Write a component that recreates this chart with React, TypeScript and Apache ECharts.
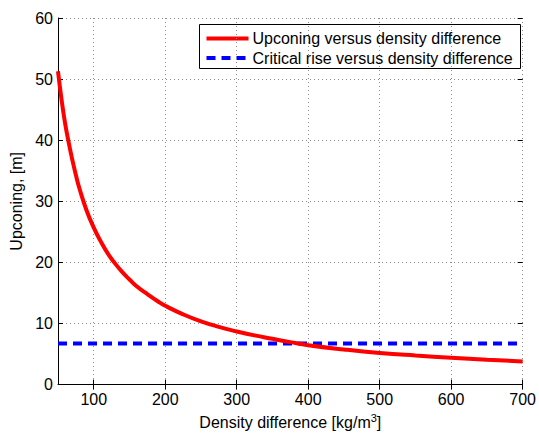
import React, { useEffect, useRef } from "react";
import * as echarts from "echarts";

const densityDiff = [50, 55, 60, 65, 70, 75, 80, 90, 100, 110, 120, 130, 140, 150, 160, 175, 190, 200, 225, 250, 275, 300, 325, 350, 375, 400, 450, 500, 550, 600, 650, 700];
const upconing = [51.3, 46.6, 42.7, 39.6, 36.8, 34.3, 32.1, 28.5, 25.7, 23.4, 21.4, 19.8, 18.4, 17.2, 16.1, 14.8, 13.6, 12.9, 11.5, 10.35, 9.45, 8.7, 8.05, 7.5, 6.95, 6.45, 5.75, 5.18, 4.76, 4.41, 4.08, 3.78];
const criticalX = [50, 700];
const criticalRise = [6.74, 6.74];
const xTicks = [100, 200, 300, 400, 500, 600, 700];
const seriesNames = ["Upconing versus density difference", "Critical rise versus density difference"];

const FONT = "Liberation Sans, Arial, Helvetica, sans-serif";

export default function App() {
  const ref = useRef<HTMLDivElement>(null);
  useEffect(() => {
    document.body.style.margin = "0";
    if (!ref.current) return;
    const chart = echarts.init(ref.current, null, { renderer: "svg" });
    const gridLine = { show: true, lineStyle: { color: "#8a8a8a", width: 1, type: [1, 3] as any } };
    chart.setOption({
      animation: false,
      backgroundColor: "#fff",
      textStyle: { fontFamily: FONT },
      grid: { left: 58, right: 13, top: 18, bottom: 47, containLabel: false },
      xAxis: [
        {
          type: "value",
          min: 50,
          max: 700,
          axisLine: { show: true, lineStyle: { color: "#000", width: 1 } },
          axisTick: { show: true, inside: true, length: 5, lineStyle: { color: "#000" }, customValues: xTicks },
          axisLabel: { color: "#000", fontSize: 16, fontFamily: FONT, margin: 7, customValues: xTicks },
          splitLine: gridLine,
          name: "Density difference [kg/m{sup|3}]",
          nameLocation: "middle",
          nameGap: 24,
          nameTextStyle: {
            color: "#000",
            fontSize: 16,
            fontFamily: FONT,
            rich: { sup: { fontSize: 11, verticalAlign: "top", padding: [0, 0, 8, 0], color: "#000", fontFamily: FONT } },
          },
        },
        {
          type: "value",
          position: "top",
          min: 50,
          max: 700,
          axisLine: { show: false },
          axisTick: { show: true, inside: true, length: 5, lineStyle: { color: "#000" }, customValues: xTicks },
          axisLabel: { show: false },
          splitLine: { show: false },
        },
      ],
      yAxis: [
        {
          type: "value",
          min: 0,
          max: 60,
          interval: 10,
          axisLine: { show: true, lineStyle: { color: "#000", width: 1 } },
          axisTick: { show: true, inside: true, length: 5, lineStyle: { color: "#000" } },
          axisLabel: { color: "#000", fontSize: 16, fontFamily: FONT, margin: 5 },
          splitLine: gridLine,
          name: "Upconing, [m]",
          nameLocation: "middle",
          nameGap: 29,
          nameRotate: 90,
          nameTextStyle: { color: "#000", fontSize: 16, fontFamily: FONT },
        },
        {
          type: "value",
          position: "right",
          min: 0,
          max: 60,
          interval: 10,
          axisLine: { show: false },
          axisTick: { show: true, inside: true, length: 5, lineStyle: { color: "#000" } },
          axisLabel: { show: false },
          splitLine: { show: false },
        },
      ],
      series: [
        {
          name: seriesNames[0],
          type: "line",
          smooth: true,
          showSymbol: false,
          data: densityDiff.map((x, i) => [x, upconing[i]]),
          lineStyle: { color: "#ff0000", width: 4 },
          itemStyle: { color: "#ff0000" },
          z: 3,
        },
        {
          name: seriesNames[1],
          type: "line",
          showSymbol: false,
          data: criticalX.map((x, i) => [x, criticalRise[i]]),
          lineStyle: { color: "#0000ff", width: 4, type: [9, 6] as any },
          itemStyle: { color: "#0000ff" },
          z: 2,
        },
      ],
      graphic: [
        {
          type: "group",
          left: 199,
          top: 24,
          z: 100,
          children: [
            { type: "rect", shape: { x: 0, y: 0, width: 321, height: 44 }, style: { fill: "#fff", stroke: "#000", lineWidth: 1 } },
            { type: "line", shape: { x1: 7, y1: 14, x2: 49, y2: 14 }, style: { stroke: "#ff0000", lineWidth: 4 } },
            { type: "line", shape: { x1: 7, y1: 33.5, x2: 49, y2: 33.5 }, style: { stroke: "#0000ff", lineWidth: 4, lineDash: [9, 6] } },
            { type: "text", x: 53, y: 14, style: { text: seriesNames[0], fill: "#000", font: `16px ${FONT}`, verticalAlign: "middle" } },
            { type: "text", x: 53, y: 33.5, style: { text: seriesNames[1], fill: "#000", font: `16px ${FONT}`, verticalAlign: "middle" } },
          ],
        },
      ],
    });
    return () => chart.dispose();
  }, []);
  return <div ref={ref} style={{ width: 539, height: 435 }} />;
}
